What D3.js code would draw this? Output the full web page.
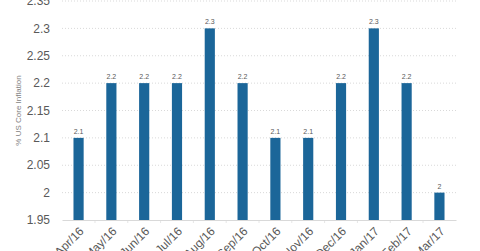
<!DOCTYPE html>
<html>
<head>
<meta charset="utf-8">
<script src="https://cdn.jsdelivr.net/npm/d3@7"></script>
<style>
  body { margin: 0; background: #fff; }
  svg { display: block; font-family: "Liberation Sans", Arial, sans-serif; }
</style>
</head>
<body>
<svg id="chart" width="480" height="251"></svg>
<script>
// Chart data.
const months = ["Apr/16", "May/16", "Jun/16", "Jul/16", "Aug/16", "Sep/16",
    "Oct/16", "Nov/16", "Dec/16", "Jan/17", "Feb/17", "Mar/17"];
const coreInflation = [2.1, 2.2, 2.2, 2.2, 2.3, 2.2, 2.1, 2.1, 2.2, 2.3, 2.2, 2.0];
const yTicks = [1.95, 2, 2.05, 2.1, 2.15, 2.2, 2.25, 2.3, 2.35];

// Display parameters.
let barColour = "#1b6699";
let gridColour = "#d9d9d9";
let textColour = "#595959";

let margin = {top: 1, left: 62, right: 24, bottom: 31};
let width = 480 - margin.left - margin.right;
let height = 251 - margin.top - margin.bottom;

let svg = d3.select("#chart");
let g = svg.append("g")
    .attr("transform", `translate(${margin.left},${margin.top})`);

let x = d3.scaleBand()
    .domain(months)
    .range([0, width])
    .paddingInner(0.69)
    .paddingOuter(0.35);

let y = d3.scaleLinear()
    .domain([1.95, 2.35])
    .range([height, 0]);

// Dotted gridlines.
g.append("g")
    .selectAll("line")
    .data(yTicks.slice(1))
    .enter()
    .append("line")
    .attr("x1", 0)
    .attr("x2", width)
    .attr("y1", d => y(d))
    .attr("y2", d => y(d))
    .attr("stroke", gridColour)
    .attr("stroke-width", 1)
    .attr("stroke-dasharray", "1,2");

// Y axis tick labels.
g.append("g")
    .selectAll("text")
    .data(yTicks)
    .enter()
    .append("text")
    .attr("x", -12)
    .attr("y", d => y(d))
    .attr("dy", "0.35em")
    .attr("text-anchor", "end")
    .attr("font-size", "12px")
    .attr("fill", textColour)
    .text(d => d3.format("~g")(d));

// Y axis title.
svg.append("text")
    .attr("transform", `translate(21,${margin.top + height / 2}) rotate(-90)`)
    .attr("text-anchor", "middle")
    .attr("font-size", "8px")
    .attr("fill", "#7f7f7f")
    .text("% US Core Inflation");

// Bars.
g.append("g")
    .selectAll("rect")
    .data(coreInflation)
    .enter()
    .append("rect")
    .attr("x", (d, i) => x(months[i]))
    .attr("y", d => y(d))
    .attr("width", x.bandwidth())
    .attr("height", d => y(1.95) - y(d))
    .attr("fill", barColour);

// Value labels.
g.append("g")
    .selectAll("text")
    .data(coreInflation)
    .enter()
    .append("text")
    .attr("x", (d, i) => x(months[i]) + x.bandwidth() / 2)
    .attr("y", d => y(d) - 4)
    .attr("text-anchor", "middle")
    .attr("font-size", "7px")
    .attr("fill", textColour)
    .text(d => d3.format("~g")(d));

// Faint tick marks between categories.
let step = x.step();
g.append("g")
    .selectAll("line")
    .data(months.slice(1))
    .enter()
    .append("line")
    .attr("x1", d => x(d) - step * x.paddingInner() / 2)
    .attr("x2", d => x(d) - step * x.paddingInner() / 2)
    .attr("y1", height)
    .attr("y2", height + 3)
    .attr("stroke", "#e6e6e6");

// X axis.
let xAxis = g.append("g")
    .attr("transform", `translate(0,${height})`)
    .call(d3.axisBottom(x).tickSize(0));

xAxis.select(".domain").attr("stroke", "#d9d9d9");

// Rotated month labels, ending just right of each bar.
xAxis.selectAll("text")
    .attr("font-size", "12px")
    .attr("fill", textColour)
    .attr("text-anchor", "end")
    .attr("x", 0)
    .attr("y", 0)
    .attr("dy", 0)
    .attr("transform", "translate(6,12) rotate(-45)");
</script>
</body>
</html>
